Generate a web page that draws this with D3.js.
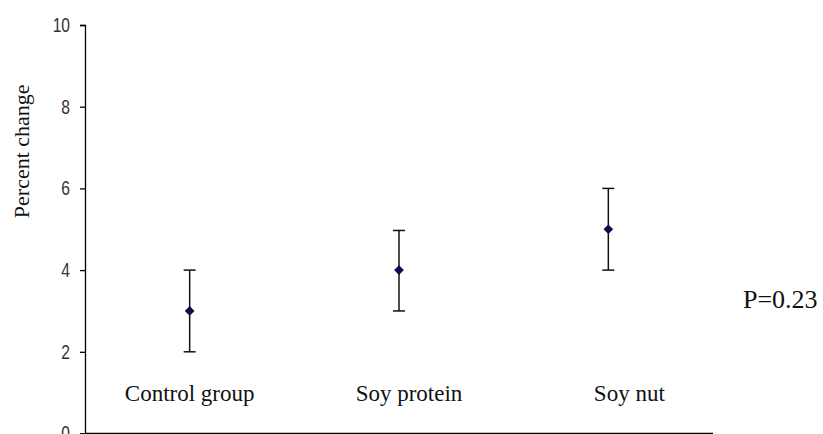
<!DOCTYPE html>
<html><head><meta charset="utf-8">
<script src="https://cdn.jsdelivr.net/npm/d3@7"></script>
<style>body{margin:0;background:#fff}svg{display:block}</style>
</head><body>
<svg id="c" width="823" height="434"></svg>
<script>
const categories = ["Control group", "Soy protein", "Soy nut"];
const means = [3, 4, 5];
const lower = [2, 3, 4];
const upper = [4, 4.97, 6];
const yTicks = [0, 2, 4, 6, 8, 10];
const pText = "P=0.23";

// layout
const labelDx = [0, 10, 21];
const svg = d3.select("#c");
const x = d3.scaleBand().domain(categories).range([85, 713]);
const y = d3.scaleLinear().domain([0, 10]).range([433.5, 25]);
const cx = d => x(d) + x.bandwidth() / 2;

const yAxis = svg.append("g").attr("transform", "translate(85,0)")
  .call(d3.axisLeft(y).tickValues(yTicks).tickSize(5).tickPadding(10).tickFormat(d3.format("d")));
yAxis.select(".domain").attr("stroke", "#000").attr("stroke-width", 1.3);
yAxis.selectAll(".tick line").attr("stroke", "#000").attr("stroke-width", 1.3);
yAxis.selectAll(".tick text").attr("fill", "#333")
  .attr("x", -15 / 0.78).attr("transform", "scale(0.78,1)")
  .style("font-family", "'Liberation Sans',Arial,sans-serif").style("font-size", "20px");

svg.append("line").attr("x1", 85).attr("x2", 713).attr("y1", y(0)).attr("y2", y(0))
  .attr("stroke", "#000").attr("stroke-width", 1.5);

svg.append("text").attr("transform", `translate(29,${(y(10)+y(0))/2 - 78}) rotate(-90)`)
  .attr("text-anchor", "middle").style("font-family", "'Liberation Serif','Times New Roman',serif")
  .style("font-size", "22px").attr("fill", "#111").text("Percent change");

const g = svg.append("g");
categories.forEach((c, i) => {
  const px = cx(c);
  g.append("line").attr("x1", px).attr("x2", px).attr("y1", y(lower[i])).attr("y2", y(upper[i]))
    .attr("stroke", "#111").attr("stroke-width", 1.5);
  [lower[i], upper[i]].forEach(v => g.append("line").attr("x1", px - 6).attr("x2", px + 6)
    .attr("y1", y(v)).attr("y2", y(v)).attr("stroke", "#111").attr("stroke-width", 1.5));
  g.append("path").attr("d", d3.symbol(d3.symbolDiamond2, 60)())
    .attr("transform", `translate(${px},${y(means[i])})`).attr("fill", "#0d0d4d");
  svg.append("text").attr("x", px + labelDx[i]).attr("y", 401).attr("text-anchor", "middle")
    .style("font-family", "'Liberation Serif','Times New Roman',serif").style("font-size", "23px")
    .attr("fill", "#111").text(c);
});

svg.append("text").attr("x", 743).attr("y", 308)
  .style("font-family", "'Liberation Serif','Times New Roman',serif").style("font-size", "26px")
  .attr("fill", "#111").text(pText);
</script>
</body></html>
